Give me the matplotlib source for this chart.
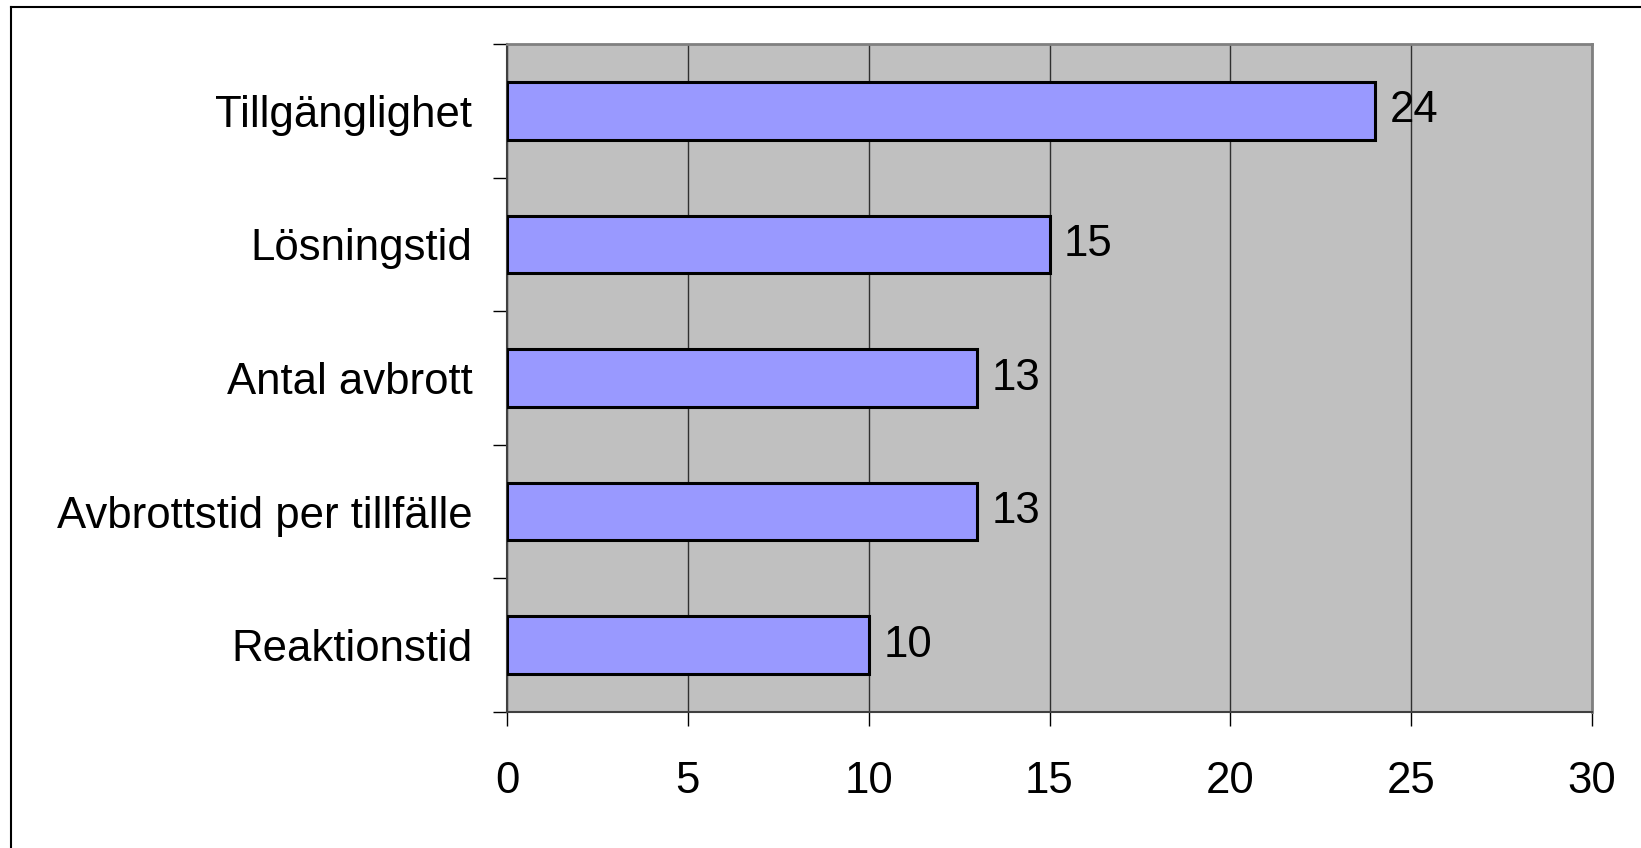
import matplotlib
matplotlib.use('Agg')
import matplotlib.pyplot as plt
from matplotlib.lines import Line2D
import numpy as np

# data (top to bottom as displayed)
categories = ['Tillgänglighet', 'Lösningstid', 'Antal avbrott',
              'Avbrottstid per tillfälle', 'Reaktionstid']
values = [24, 15, 13, 13, 10]
x_ticks = [0, 5, 10, 15, 20, 25, 30]

plt.rcParams['font.family'] = ['Liberation Sans', 'DejaVu Sans']
FS = 31.5

fig = plt.figure(figsize=(16.41, 8.48), dpi=100)
ax = fig.add_axes([507 / 1641, 1 - 712 / 848, (1592 - 507) / 1641, (712 - 44) / 848])

# outer chart border (left and top visible)
fig.add_artist(Line2D([11 / 1641, 11 / 1641], [0, 1 - 7 / 848], color='black', lw=1.5))
fig.add_artist(Line2D([11 / 1641, 1], [1 - 7 / 848, 1 - 7 / 848], color='black', lw=1.5))

n = len(categories)
ypos = np.arange(n)[::-1]

ax.set_facecolor('#C0C0C0')
ax.set_axisbelow(True)
ax.grid(axis='x', color='#303030', lw=1.0)

ax.barh(ypos, values, height=0.43, color='#9999FF',
        edgecolor='black', linewidth=2.2, zorder=3)

for y, v in zip(ypos, values):
    ax.text(v + 0.4, y, str(v), va='center', ha='left', fontsize=FS, zorder=4)

ax.set_xlim(0, 30)
ax.set_ylim(-0.5, n - 0.5)
ax.set_xticks(x_ticks)
ax.set_xticklabels([str(t) for t in x_ticks])
ax.set_yticks(ypos)
ax.set_yticklabels(categories)
ax.set_yticks(np.arange(n + 1) - 0.5, minor=True)

ax.tick_params(axis='y', which='major', length=0, pad=25, labelsize=FS)
ax.tick_params(axis='y', which='minor', length=10, width=1, color='black')
ax.tick_params(axis='x', which='major', length=10, width=1, pad=25,
               labelsize=FS, color='black')

for side in ['top', 'right']:
    ax.spines[side].set_color('#808080')
    ax.spines[side].set_linewidth(2)
for side in ['left', 'bottom']:
    ax.spines[side].set_color('#404040')
    ax.spines[side].set_linewidth(1.5)

fig.savefig('out.png', dpi=100)
plt.close(fig)
